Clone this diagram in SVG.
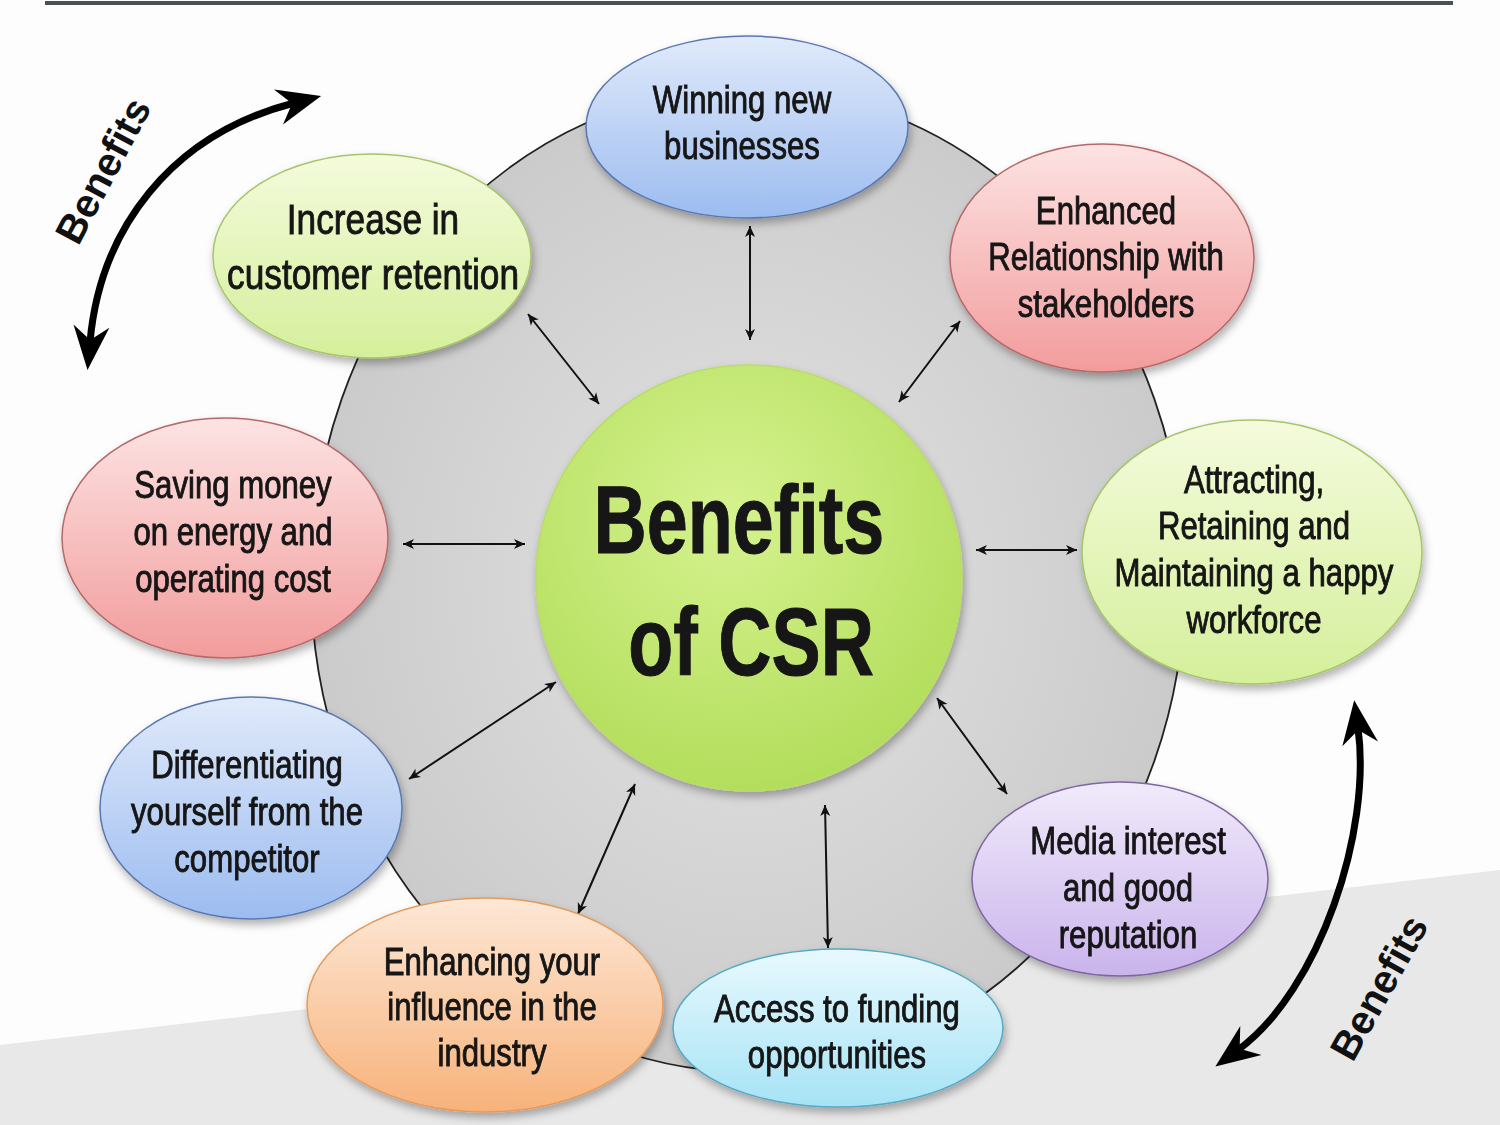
<svg xmlns="http://www.w3.org/2000/svg" width="1500" height="1125" viewBox="0 0 1500 1125">
<style>
.lbl{font-family:'Liberation Sans',Arial,sans-serif;font-size:38px;fill:#141414;stroke:#141414;stroke-width:0.9;text-anchor:middle}
.conn{stroke:#111;stroke-width:2;fill:none;marker-start:url(#sa);marker-end:url(#sa)}
.big{stroke:#000;stroke-width:7;fill:none;marker-start:url(#ba);marker-end:url(#ba)}
.side{font-family:'Liberation Sans',Arial,sans-serif;font-weight:bold;font-size:40px;fill:#111;text-anchor:middle}
.node{filter:url(#sh)}
</style>
<defs>
<filter id="sh" x="-20%" y="-20%" width="140%" height="150%"><feDropShadow dx="2" dy="5" stdDeviation="4" flood-color="#000" flood-opacity="0.3"/></filter>
<marker id="sa" viewBox="-12 -6 14 12" refX="0" refY="0" markerWidth="14" markerHeight="12" markerUnits="userSpaceOnUse" orient="auto-start-reverse"><path d="M0,0 L-11,-5 L-8,0 L-11,5 Z" fill="#111"/></marker>
<marker id="ba" viewBox="-50 -25 60 50" refX="-28" refY="0" markerWidth="60" markerHeight="50" markerUnits="userSpaceOnUse" orient="auto-start-reverse" overflow="visible"><path d="M0,0 L-44,-18 L-30,0 L-44,18 Z" fill="#000"/></marker>
<radialGradient id="gray" cx="0.5" cy="0.5" r="0.6"><stop offset="0" stop-color="#e3e3e3"/><stop offset="1" stop-color="#c6c6c6"/></radialGradient>
<radialGradient id="gc" cx="0.45" cy="0.35" r="0.65"><stop offset="0" stop-color="#d6f28f"/><stop offset="1" stop-color="#b3de5c"/></radialGradient>
<linearGradient id="blue" x1="0" y1="0" x2="0" y2="1"><stop offset="0" stop-color="#e0eafa"/><stop offset="1" stop-color="#9cbcf0"/></linearGradient>
<linearGradient id="pink" x1="0" y1="0" x2="0" y2="1"><stop offset="0" stop-color="#fde3e3"/><stop offset="1" stop-color="#f29c9c"/></linearGradient>
<linearGradient id="lgreen" x1="0" y1="0" x2="0" y2="1"><stop offset="0" stop-color="#f4fbdc"/><stop offset="1" stop-color="#d5ef9b"/></linearGradient>
<linearGradient id="purple" x1="0" y1="0" x2="0" y2="1"><stop offset="0" stop-color="#f1eafb"/><stop offset="1" stop-color="#cab4ec"/></linearGradient>
<linearGradient id="cyan" x1="0" y1="0" x2="0" y2="1"><stop offset="0" stop-color="#e8f9fe"/><stop offset="1" stop-color="#a6e3f5"/></linearGradient>
<linearGradient id="orange" x1="0" y1="0" x2="0" y2="1"><stop offset="0" stop-color="#fde8d6"/><stop offset="1" stop-color="#f7b27a"/></linearGradient>
</defs>
<rect width="1500" height="1125" fill="#fdfdfd"/>
<polygon points="0,1045 1500,870 1500,1125 0,1125" fill="#e8e8e8"/>
<line x1="45" y1="3" x2="1453" y2="3" stroke="#4a5058" stroke-width="4"/>
<ellipse id="ring" cx="748" cy="580" rx="437" ry="492" fill="url(#gray)" stroke="#222" stroke-width="1.8"/>
<g id="connectors">
<line class="conn" x1="750" y1="226" x2="750" y2="340"/>
<line class="conn" x1="528" y1="314" x2="599" y2="404"/>
<line class="conn" x1="960" y1="321" x2="899" y2="402"/>
<line class="conn" x1="403" y1="544" x2="525" y2="544"/>
<line class="conn" x1="976" y1="550" x2="1077" y2="550"/>
<line class="conn" x1="409" y1="779" x2="556" y2="682"/>
<line class="conn" x1="937" y1="698" x2="1007" y2="794"/>
<line class="conn" x1="635" y1="784" x2="578" y2="914"/>
<line class="conn" x1="825" y1="805" x2="828" y2="948"/>
<path class="big" d="M90,342 C100,230 170,135 294,103"/>
<path class="big" d="M1358,728 C1372,830 1320,990 1238,1050"/>
</g>
<g id="benefits-label-top"><text class="side" transform="translate(102,170) rotate(-62)" y="15">Benefits</text></g>
<g id="benefits-label-bottom"><text class="side" transform="translate(1378,987) rotate(-61)" y="15">Benefits</text></g>
<g id="n1" class="node"><ellipse cx="747" cy="127" rx="161" ry="91" fill="url(#blue)" stroke="#5a78b0" stroke-width="1.5"/><text class="lbl" transform="matrix(0.82,0,0,1,742,0)"><tspan x="0" y="113">Winning new</tspan><tspan x="0" y="159">businesses</tspan></text></g>
<g id="n2" class="node"><ellipse cx="1102" cy="258" rx="152" ry="114" fill="url(#pink)" stroke="#b76868" stroke-width="1.5"/><text class="lbl" transform="matrix(0.82,0,0,1,1106,0)"><tspan x="0" y="224">Enhanced</tspan><tspan x="0" y="270">Relationship with</tspan><tspan x="0" y="317">stakeholders</tspan></text></g>
<g id="n3" class="node"><ellipse cx="1252" cy="552" rx="170" ry="132" fill="url(#lgreen)" stroke="#a8c46a" stroke-width="1.5"/><text class="lbl" transform="matrix(0.82,0,0,1,1254,0)"><tspan x="0" y="493">Attracting,</tspan><tspan x="0" y="539">Retaining and</tspan><tspan x="0" y="586">Maintaining a happy</tspan><tspan x="0" y="633">workforce</tspan></text></g>
<g id="n4" class="node"><ellipse cx="1120" cy="879" rx="148" ry="97" fill="url(#purple)" stroke="#7e66a0" stroke-width="1.5"/><text class="lbl" transform="matrix(0.82,0,0,1,1128,0)"><tspan x="0" y="854">Media interest</tspan><tspan x="0" y="901">and good</tspan><tspan x="0" y="948">reputation</tspan></text></g>
<g id="n5" class="node"><ellipse cx="838" cy="1028" rx="165" ry="79" fill="url(#cyan)" stroke="#55a9c4" stroke-width="1.5"/><text class="lbl" transform="matrix(0.82,0,0,1,837,0)"><tspan x="0" y="1022">Access to funding</tspan><tspan x="0" y="1068">opportunities</tspan></text></g>
<g id="n6" class="node"><ellipse cx="485" cy="1005" rx="178" ry="107" fill="url(#orange)" stroke="#e39a5c" stroke-width="1.5"/><text class="lbl" transform="matrix(0.82,0,0,1,492,0)"><tspan x="0" y="975">Enhancing your</tspan><tspan x="0" y="1020">influence in the</tspan><tspan x="0" y="1066">industry</tspan></text></g>
<g id="n7" class="node"><ellipse cx="251" cy="808" rx="151" ry="111" fill="url(#blue)" stroke="#5a78b0" stroke-width="1.5"/><text class="lbl" transform="matrix(0.82,0,0,1,247,0)"><tspan x="0" y="778">Differentiating</tspan><tspan x="0" y="825">yourself from the</tspan><tspan x="0" y="872">competitor</tspan></text></g>
<g id="n8" class="node"><ellipse cx="225" cy="538" rx="163" ry="120" fill="url(#pink)" stroke="#b76868" stroke-width="1.5"/><text class="lbl" transform="matrix(0.82,0,0,1,233,0)"><tspan x="0" y="498">Saving money</tspan><tspan x="0" y="545">on energy and</tspan><tspan x="0" y="592">operating cost</tspan></text></g>
<g id="n9" class="node"><ellipse cx="372" cy="256" rx="159" ry="102" fill="url(#lgreen)" stroke="#a8c46a" stroke-width="1.5"/><text class="lbl" style="font-size:43px" transform="matrix(0.82,0,0,1,373,0)"><tspan x="0" y="234">Increase in</tspan><tspan x="0" y="289">customer retention</tspan></text></g>
<g id="center" class="node"><circle cx="749" cy="578" r="213" fill="url(#gc)" stroke="#b9dc6a" stroke-width="1.5"/><text class="lbl" style="font-weight:bold;font-size:97px;stroke-width:1" transform="matrix(0.76,0,0,1,745,0)"><tspan x="-8" y="553">Benefits</tspan><tspan x="8" y="675">of CSR</tspan></text></g>
</svg>
